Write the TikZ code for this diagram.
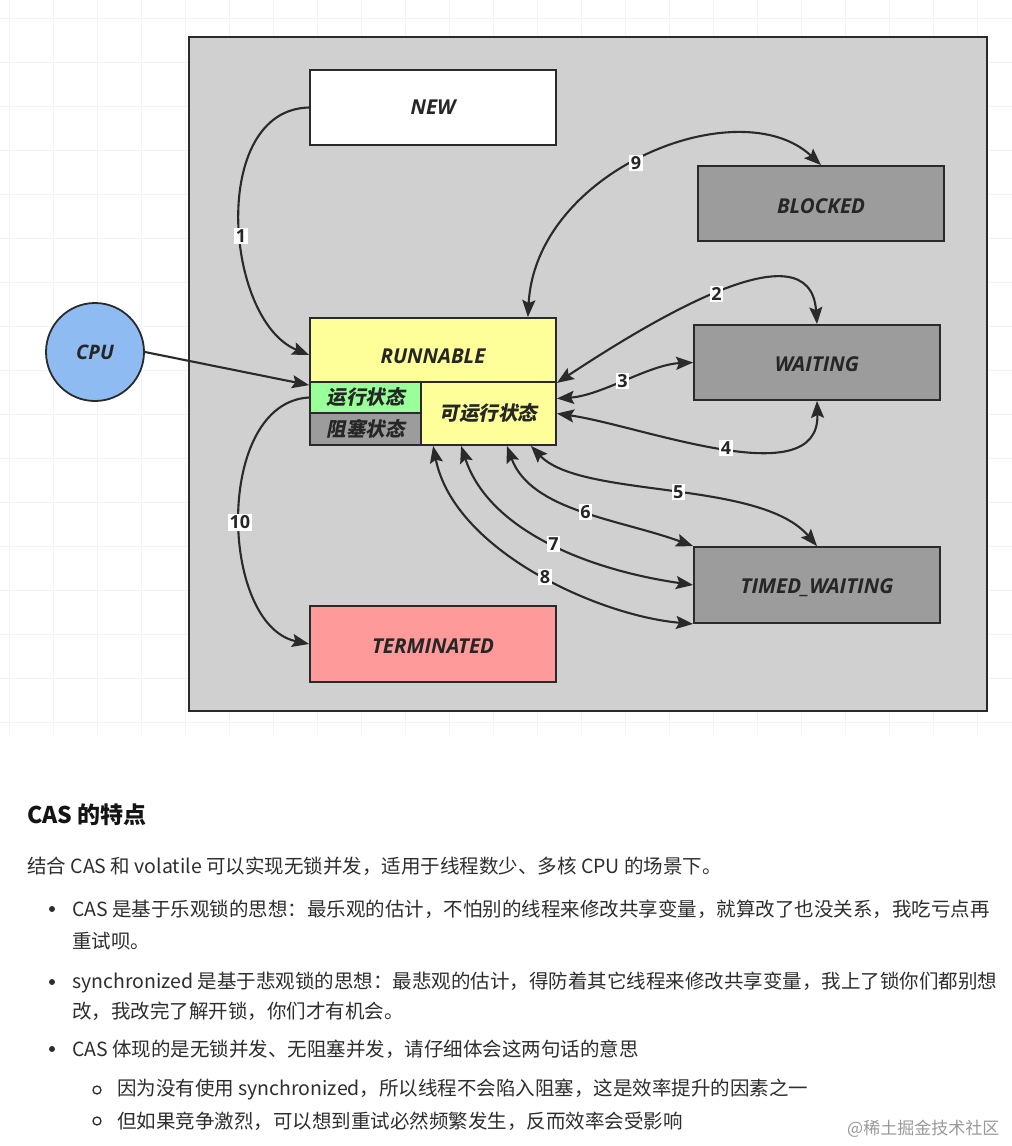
\documentclass[tikz,border=0pt]{standalone}
\usepackage{fontspec}
\usetikzlibrary{arrows.meta}
\newfontfamily\diagfont{Open Sans}
\newfontfamily\cjk{Noto Sans CJK SC}
\newfontfamily\cjkslant{Noto Sans CJK SC}[FakeSlant=0.2]
\definecolor{outerbg}{HTML}{D0D0D0}
\definecolor{darkstate}{HTML}{9C9C9C}
\definecolor{runyellow}{HTML}{FFFF99}
\definecolor{rungreen}{HTML}{99FF99}
\definecolor{termred}{HTML}{FF9A9A}
\definecolor{cpublue}{HTML}{8EBCF2}
\definecolor{edge}{HTML}{2A2A2A}
\definecolor{bodytext}{HTML}{2E2E2E}
\definecolor{gridc}{HTML}{F3F3F3}
\begin{document}
\begin{tikzpicture}[x=1pt,y=-1pt,
  state/.style={draw=edge, line width=1.8pt, minimum width=246pt, minimum height=75pt, inner sep=0pt,
    font=\diagfont\bfseries\itshape\fontsize{20.5}{24}\selectfont, text=black!85},
  sub/.style={draw=edge, line width=1.8pt, inner sep=0pt,
    font=\cjkslant\bfseries\fontsize{19.5}{22}\selectfont, text=black!85},
  conn/.style={line width=2.1pt, draw=edge},
  both/.style={conn, {Stealth[length=17pt,width=13pt,inset=3pt]}-{Stealth[length=17pt,width=13pt,inset=3pt]}},
  one/.style={conn, -{Stealth[length=17pt,width=13pt,inset=3pt]}},
  lbl/.style={fill=white, inner sep=1.5pt, font=\diagfont\bfseries\fontsize{18}{20}\selectfont, text=black!85},
  txt/.style={anchor=west, inner sep=0pt, text=bodytext, font=\cjk\fontsize{19.5}{23}\selectfont},
  bulletdot/.style={circle, fill=bodytext, inner sep=0pt, minimum size=6pt},
  bulletring/.style={circle, draw=bodytext, line width=1.3pt, inner sep=0pt, minimum size=8pt}
]
\useasboundingbox (0,0) rectangle (1012,1146);
\fill[white] (0,0) rectangle (1012,1146);
% faint grid
\foreach \gx in {9,53,...,1012} \draw[gridc, line width=0.7pt] (\gx,0) -- (\gx,735);
\foreach \gy in {18,62,...,735} \draw[gridc, line width=0.7pt] (0,\gy) -- (1012,\gy);
% outer panel
\node[draw=edge, fill=outerbg, line width=1.8pt, minimum width=798pt, minimum height=674pt, inner sep=0pt] (panel) at (588,374) {};

% states
\node[state, fill=white] (new) at (433,107.5) {NEW};
\node[state, fill=darkstate] (blk) at (821,203.5) {};
\node[state, draw=none] (blktxt) at (821,206) {BLOCKED};
\node[state, fill=darkstate] (wait) at (817,362.5) {};
\node[state, draw=none] (waittxt) at (817,364) {WAITING};
\node[state, fill=darkstate, minimum height=76pt] (tw) at (817,585) {};
\node[state, draw=none] (twtxt) at (817,587.5) {TIMED\_WAITING};
\node[state, fill=termred, minimum height=76pt] (term) at (433,644) {};
\node[state, draw=none] (termtxt) at (433,646) {TERMINATED};
\node[state, fill=runyellow, minimum height=64pt] (run) at (433,350) {};
\node[state, draw=none] (runtxt) at (433,356) {RUNNABLE};
\node[sub, fill=rungreen, minimum width=111pt, minimum height=31pt] (running) at (365.5,397.5) {运行状态};
\node[sub, fill=darkstate, minimum width=111pt, minimum height=32pt] (blkst) at (365.5,429) {阻塞状态};
\node[sub, fill=runyellow, minimum width=135pt, minimum height=63pt] (ready) at (488.5,413.5) {可运行状态};
\node[circle, draw=edge, line width=1.8pt, fill=cpublue, minimum size=98pt, inner sep=0pt,
  font=\diagfont\bfseries\itshape\fontsize{20}{24}\selectfont, text=black!85] (cpu) at (95,352) {CPU};

% connectors
\draw[one] (new.west) .. controls +(-100,2) and +(-85,-35) .. ([yshift=-5pt]run.west)
  node[lbl, pos=0.55] {1};
\draw[one] (cpu.east) -- ([yshift=-4pt]running.north west);
\draw[one] (running.west) .. controls +(-95,5) and +(-90,-19) .. (term.west)
  node[lbl, pos=0.52] {10};
\draw[both] ([xshift=-29pt]run.north east) .. controls +(8,-148) and +(-81,-76) .. (blk.north)
  node[lbl, pos=0.47] {9};
\draw[both] (run.south east) .. controls +(94,-62) and +(-7,-100) .. (wait.north)
  node[lbl, pos=0.49] {2};
\draw[both] ([yshift=15pt]ready.east) .. controls +(45,-3) and +(-44,2) .. (wait.west)
  node[lbl, pos=0.48] {3};
\draw[both] (ready.east) .. controls +(84,12) and +(3,95) .. (wait.south)
  node[lbl, pos=0.52] {4};
\draw[both] ([xshift=-26pt]ready.south east) .. controls +(50,53) and +(-57,-67) .. (tw.north)
  node[lbl, pos=0.52] {5};
\draw[both] ([xshift=-50pt]ready.south east) .. controls +(24,65) and +(-74,-27) .. (tw.north west)
  node[lbl, pos=0.52] {6};
\draw[both] ([xshift=41pt]ready.south west) .. controls +(28,85) and +(-104,-15) .. (tw.west)
  node[lbl, pos=0.52] {7};
\draw[both] ([xshift=13pt]ready.south west) .. controls +(21,105) and +(-94,-8) .. (tw.south west)
  node[lbl, pos=0.53] {8};

% text below
\node[txt, text=black!92, font=\cjk\bfseries\fontsize{23}{27}\selectfont] (head) at (27,815) {CAS 的特点};
\node[txt] (para) at (27,866) {结合 CAS 和 volatile 可以实现无锁并发，适用于线程数少、多核 CPU 的场景下。};
\node[bulletdot] (d1) at (52,909) {};
\node[txt] (b1a) at (72,909) {CAS 是基于乐观锁的思想：最乐观的估计，不怕别的线程来修改共享变量，就算改了也没关系，我吃亏点再};
\node[txt] (b1b) at (72,941) {重试呗。};
\node[bulletdot] (d2) at (52,982) {};
\node[txt] (b2a) at (72,982) {synchronized 是基于悲观锁的思想：最悲观的估计，得防着其它线程来修改共享变量，我上了锁你们都别想};
\node[txt] (b2b) at (72,1011) {改，我改完了解开锁，你们才有机会。};
\node[bulletdot] (d3) at (52,1049) {};
\node[txt] (b3) at (72,1049) {CAS 体现的是无锁并发、无阻塞并发，请仔细体会这两句话的意思};
\node[bulletring] (r1) at (97,1090) {};
\node[txt] (s1) at (117,1090) {因为没有使用 synchronized，所以线程不会陷入阻塞，这是效率提升的因素之一};
\node[bulletring] (r2) at (97,1121) {};
\node[txt] (s2) at (117,1121) {但如果竞争激烈，可以想到重试必然频繁发生，反而效率会受影响};
\node[txt, text=black!40, font=\cjk\fontsize{17}{20}\selectfont] (wm) at (847,1129) {@稀土掘金技术社区};
\end{tikzpicture}
\end{document}
